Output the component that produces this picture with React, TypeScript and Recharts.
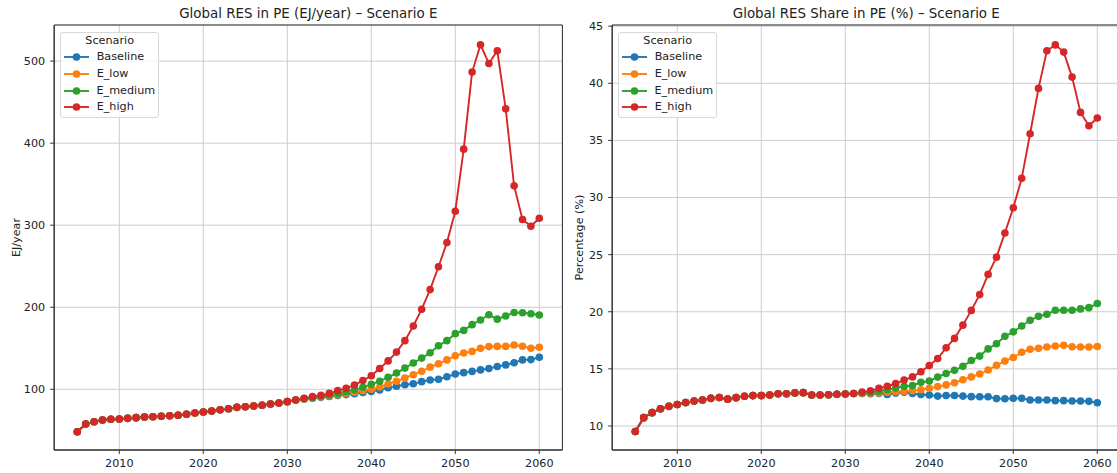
import { LineChart, Line, XAxis, YAxis, CartesianGrid, Legend, ReferenceArea } from 'recharts'

const YEARS = [
  2005, 2006, 2007, 2008, 2009, 2010, 2011, 2012, 2013, 2014, 2015, 2016, 2017, 2018,
  2019, 2020, 2021, 2022, 2023, 2024, 2025, 2026, 2027, 2028, 2029, 2030, 2031, 2032,
  2033, 2034, 2035, 2036, 2037, 2038, 2039, 2040, 2041, 2042, 2043, 2044, 2045, 2046,
  2047, 2048, 2049, 2050, 2051, 2052, 2053, 2054, 2055, 2056, 2057, 2058, 2059, 2060,
]

const X_TICKS = [2010, 2020, 2030, 2040, 2050, 2060]
const RES_TICKS = [100, 200, 300, 400, 500]
const SHARE_TICKS = [10, 15, 20, 25, 30, 35, 40, 45]

// EJ/year, 2005-2031 identical for all scenarios
const resShared = [
  48.3, 57.7, 60.5, 62.6, 63.4, 63.8, 64.6, 65.4, 66.2, 66.6, 67.1, 67.8, 68.3, 69.5,
  71.1, 72.3, 73.5, 75.1, 76.3, 78, 78.8, 79.6, 80.5, 82.1, 83.3, 84.9, 87,
]
// 2032-2060
const resBaseline = [...resShared,
  88.2, 89, 90.2, 91.3, 92.4, 93.5, 94.6, 96, 97.3, 99.2, 101.8, 103.8, 105.5, 106.8, 109.3,
  111.3, 112.3, 115.2, 118.6, 120.3, 121.8, 123.6, 125.3, 127.7, 129.7, 132.4, 135.8, 136.2, 139,
]
const resLow = [...resShared,
  88.3, 89.5, 90.8, 92, 93.3, 94.8, 96.3, 98.2, 100, 102.8, 106.5, 109.8, 113.8, 117.8, 122,
  127, 131.2, 135.8, 140.8, 144.2, 146.2, 150, 152, 152.3, 152.3, 154, 152.5, 150, 151.2,
]
const resMedium = [...resShared,
  88.6, 90, 91.5, 93, 95, 97, 99.3, 102.4, 106, 109.8, 114.6, 119.8, 125.8, 132, 138,
  144.5, 153, 159.3, 167.8, 171.8, 178.8, 184.5, 190.8, 185.5, 189.4, 193.6, 193.2, 192, 190.6,
]
const resHigh = [...resShared,
  89, 91, 92.7, 95, 98.4, 101.2, 105.3, 110.6, 116.5, 125.4, 134.6, 145.3, 159.3, 177.2, 197.6,
  221.5, 249.3, 278.8, 317, 392.7, 486.6, 519.9, 497, 512.5, 441.8, 348, 307, 298.8, 308.5,
]

// share in %, 2005-2031 identical
const shareShared = [
  9.52, 10.73, 11.17, 11.5, 11.72, 11.88, 12.05, 12.18, 12.28, 12.42, 12.5, 12.35, 12.48, 12.6,
  12.66, 12.66, 12.72, 12.82, 12.82, 12.9, 12.92, 12.72, 12.72, 12.73, 12.78, 12.8, 12.85,
]
const shareBaseline = [...shareShared,
  12.86, 12.82, 12.85, 12.76, 12.88, 12.95, 12.84, 12.76, 12.71, 12.62, 12.67, 12.67, 12.62, 12.57, 12.56,
  12.56, 12.4, 12.39, 12.42, 12.42, 12.28, 12.27, 12.27, 12.22, 12.22, 12.19, 12.19, 12.16, 12.04,
]
const shareLow = [...shareShared,
  12.85, 12.86, 12.9, 12.95, 13.0, 13.02, 13.08, 13.18, 13.3, 13.45, 13.6, 13.78, 14.05, 14.3, 14.55,
  14.9, 15.31, 15.68, 16.0, 16.45, 16.72, 16.8, 16.92, 17.0, 17.07, 16.94, 16.92, 16.92, 16.96,
]
const shareMedium = [...shareShared,
  12.9, 12.93, 13.05, 13.18, 13.33, 13.47, 13.55, 13.82, 13.94, 14.28, 14.6, 14.87, 15.22, 15.73, 16.12,
  16.75, 17.2, 17.85, 18.24, 18.75, 19.25, 19.6, 19.78, 20.13, 20.13, 20.13, 20.25, 20.36, 20.72,
]
const shareHigh = [...shareShared,
  12.97, 13.08, 13.3, 13.48, 13.72, 14.02, 14.3, 14.75, 15.3, 15.9, 16.85, 17.67, 18.83, 20.12, 21.5,
  23.27, 24.78, 26.9, 29.1, 31.68, 35.58, 39.55, 42.84, 43.36, 42.73, 40.54, 37.45, 36.28, 36.96,
]

const SERIES = [
  { key: 'Baseline', color: '#1f77b4' },
  { key: 'E_low', color: '#ff7f0e' },
  { key: 'E_medium', color: '#2ca02c' },
  { key: 'E_high', color: '#d62728' },
]

function buildRows(cols: Record<string, number[]>) {
  return YEARS.map((year, i) => {
    const row: any = { year }
    Object.keys(cols).forEach((k) => { row[k] = cols[k][i] })
    return row
  })
}

const resData = buildRows({ Baseline: resBaseline, E_low: resLow, E_medium: resMedium, E_high: resHigh })
const shareData = buildRows({ Baseline: shareBaseline, E_low: shareLow, E_medium: shareMedium, E_high: shareHigh })

const FONT = '"DejaVu Sans", sans-serif'
const TXT = '#222'
const AXIS = '#333'
const X_DOMAIN = [2002.25, 2062.75]

function ScenarioLegend() {
  return (
    <div style={{
      boxSizing: 'border-box', width: '100%', border: '1px solid #d8d8d8', borderRadius: 3,
      background: 'rgba(255,255,255,0.8)', padding: '0 3px 1px 3px', fontSize: 11.2, color: TXT,
      fontFamily: FONT,
    }}>
      <div style={{ height: 16, lineHeight: '16px', textAlign: 'center' }}>Scenario</div>
      {SERIES.map((s) => (
        <div key={s.key} style={{ height: 16.7, display: 'flex', alignItems: 'center' }}>
          <svg width={25} height={10} style={{ display: 'block' }}>
            <line x1={0} y1={5} x2={25} y2={5} stroke={s.color} strokeWidth={1.9} />
            <circle cx={12.5} cy={5} r={3.8} fill={s.color} />
          </svg>
          <span style={{ marginLeft: 7.5, lineHeight: '16px' }}>{s.key}</span>
        </div>
      ))}
    </div>
  )
}

const yLabel = (text: string, gap: number) => (props: any) => {
  const { viewBox } = props
  const x = viewBox.x + viewBox.width - gap
  const y = viewBox.y + viewBox.height / 2
  return (
    <text x={x} y={y} transform={`rotate(-90, ${x}, ${y})`} textAnchor="middle"
      dominantBaseline="central" fontSize={11.2} fill={TXT} fontFamily={FONT}>
      {text}
    </text>
  )
}

interface PanelProps {
  data: any[]
  left: number
  width: number
  axisWidth: number
  marginRight: number
  yDomain: number[]
  yTicks: number[]
  yName: string
  labelGap: number
  title: string
}

function Panel({ data, left, width, axisWidth, marginRight, yDomain, yTicks, yName, labelGap, title }: PanelProps) {
  const plotCenter = axisWidth + (width - axisWidth - marginRight) / 2
  return (
    <div style={{ position: 'absolute', left, top: 0, width, height: 473 }}>
      <div style={{
        position: 'absolute', left: plotCenter - 200, width: 400, top: 6.4, textAlign: 'center',
        fontSize: 13.4, lineHeight: '16px', color: TXT, fontFamily: FONT, whiteSpace: 'nowrap',
      }}>
        {title}
      </div>
      <LineChart width={width} height={473} data={data}
        margin={{ top: 25, right: marginRight, left: 0, bottom: 0 }}>
        <CartesianGrid stroke="#cccccc" strokeWidth={1} />
        <ReferenceArea x1={X_DOMAIN[0]} x2={X_DOMAIN[1]} y1={yDomain[0]} y2={yDomain[1]}
          fill="none" stroke={AXIS} strokeWidth={1} ifOverflow="visible" />
        <XAxis dataKey="year" type="number" domain={X_DOMAIN} ticks={X_TICKS} allowDataOverflow
          interval={0} height={23} tickSize={4} tickMargin={5} stroke={AXIS}
          tick={{ fontSize: 11.2, fill: TXT, fontFamily: FONT }} />
        <YAxis type="number" domain={yDomain} ticks={yTicks} allowDataOverflow interval={0}
          width={axisWidth} tickSize={4} tickMargin={5} stroke={AXIS}
          tick={{ fontSize: 11.2, fill: TXT, fontFamily: FONT }}
          label={{ content: yLabel(yName, labelGap) }} />
        {SERIES.map((s) => (
          <Line key={s.key} dataKey={s.key} stroke={s.color} strokeWidth={1.9}
            dot={{ r: 3.8, fill: s.color, stroke: s.color, strokeWidth: 0 }}
            activeDot={false} isAnimationActive={false} />
        ))}
        <Legend layout="vertical" verticalAlign="middle" align="center"
          wrapperStyle={{ left: axisWidth + 6, top: 32, width: 99 }}
          content={() => <ScenarioLegend />} />
      </LineChart>
    </div>
  )
}

export default function App() {
  return (
    <div style={{ position: 'absolute', left: 0, top: 0, width: 1117, height: 473, overflow: 'hidden', background: '#fff' }}>
      <Panel data={resData} left={0} width={570} axisWidth={54.2} marginRight={7.6}
        yDomain={[26, 544]} yTicks={RES_TICKS} yName="EJ/year" labelGap={37.7}
        title="Global RES in PE (EJ/year) – Scenario E" />
      <Panel data={shareData} left={570} width={555} axisWidth={42.2} marginRight={4.6}
        yDomain={[7.9, 45.1]} yTicks={SHARE_TICKS} yName="Percentage (%)" labelGap={32.7}
        title="Global RES Share in PE (%) – Scenario E" />
    </div>
  )
}
